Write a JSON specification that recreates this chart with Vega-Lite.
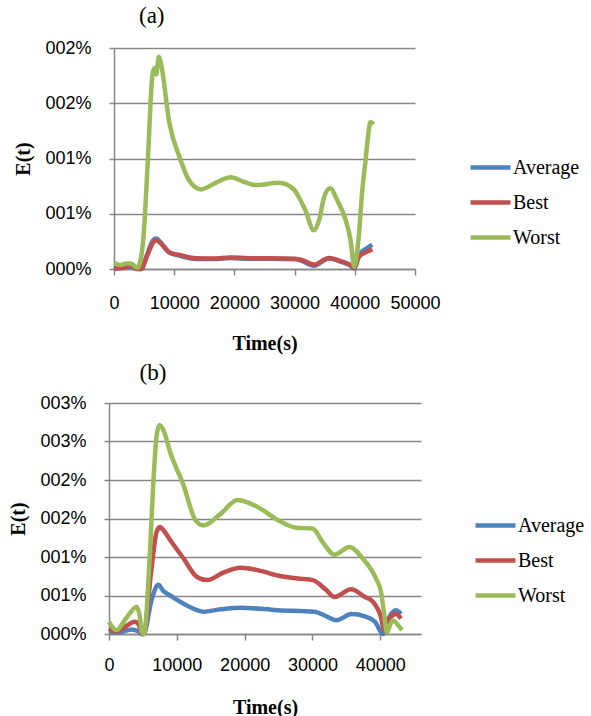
{
  "$schema": "https://vega.github.io/schema/vega-lite/v6.json",
  "padding": {"left": 8, "top": 5, "right": 0, "bottom": 0},
  "background": "white",
  "config": {
    "view": {"stroke": null},
    "axis": {
      "domainColor": "#868686", "tickColor": "#868686", "gridColor": "#868686",
      "domainWidth": 1.5, "tickWidth": 1.5, "gridWidth": 1.5,
      "labelFont": "Liberation Sans", "labelFontSize": 18, "labelColor": "#000",
      "titleFont": "Liberation Serif", "titleFontSize": 20, "titleFontWeight": "bold", "titleColor": "#000"
    },
    "legend": {
      "labelFont": "Liberation Serif", "labelFontSize": 20, "labelColor": "#000",
      "symbolType": "stroke", "symbolStrokeWidth": 4.5, "symbolSize": 1600, "labelOffset": 0, "rowPadding": 2
    },
    "title": {"font": "Liberation Serif", "fontSize": 23, "fontWeight": "normal", "color": "#000", "anchor": "start", "frame": "group", "baseline": "alphabetic"}
  },
  "datasets": {
    "a": [
      {"t": 0, "v": 0.0, "s": "Average"}, {"t": 2800, "v": 0.02, "s": "Average"}, {"t": 4000, "v": 0.0, "s": "Average"}, {"t": 4500, "v": 0.0, "s": "Average"},
      {"t": 5500, "v": 0.13, "s": "Average"}, {"t": 6500, "v": 0.26, "s": "Average"}, {"t": 7000, "v": 0.275, "s": "Average"}, {"t": 7600, "v": 0.25, "s": "Average"},
      {"t": 9200, "v": 0.15, "s": "Average"}, {"t": 10900, "v": 0.12, "s": "Average"}, {"t": 13600, "v": 0.09, "s": "Average"}, {"t": 16500, "v": 0.09, "s": "Average"},
      {"t": 19400, "v": 0.1, "s": "Average"}, {"t": 22500, "v": 0.092, "s": "Average"}, {"t": 25800, "v": 0.092, "s": "Average"}, {"t": 30100, "v": 0.088, "s": "Average"},
      {"t": 31300, "v": 0.072, "s": "Average"}, {"t": 33200, "v": 0.03, "s": "Average"}, {"t": 35700, "v": 0.095, "s": "Average"}, {"t": 37900, "v": 0.062, "s": "Average"},
      {"t": 39300, "v": 0.03, "s": "Average"}, {"t": 39900, "v": 0.005, "s": "Average"}, {"t": 40700, "v": 0.13, "s": "Average"}, {"t": 42070, "v": 0.19, "s": "Average"},
      {"t": 42900, "v": 0.22, "s": "Average"},
      {"t": 0, "v": 0.006, "s": "Best"}, {"t": 1500, "v": 0.01, "s": "Best"}, {"t": 2800, "v": 0.03, "s": "Best"}, {"t": 3800, "v": 0.0, "s": "Best"},
      {"t": 4500, "v": 0.0, "s": "Best"}, {"t": 5500, "v": 0.12, "s": "Best"}, {"t": 6500, "v": 0.24, "s": "Best"}, {"t": 7000, "v": 0.26, "s": "Best"},
      {"t": 7600, "v": 0.24, "s": "Best"}, {"t": 9200, "v": 0.15, "s": "Best"}, {"t": 10900, "v": 0.127, "s": "Best"}, {"t": 13600, "v": 0.097, "s": "Best"},
      {"t": 16500, "v": 0.095, "s": "Best"}, {"t": 19400, "v": 0.105, "s": "Best"}, {"t": 22500, "v": 0.097, "s": "Best"}, {"t": 25800, "v": 0.097, "s": "Best"},
      {"t": 30100, "v": 0.093, "s": "Best"}, {"t": 31300, "v": 0.08, "s": "Best"}, {"t": 33200, "v": 0.04, "s": "Best"}, {"t": 35700, "v": 0.1, "s": "Best"},
      {"t": 37900, "v": 0.066, "s": "Best"}, {"t": 39300, "v": 0.036, "s": "Best"}, {"t": 39900, "v": 0.01, "s": "Best"}, {"t": 40700, "v": 0.11, "s": "Best"},
      {"t": 42070, "v": 0.157, "s": "Best"}, {"t": 42900, "v": 0.18, "s": "Best"},
      {"t": 0, "v": 0.054, "s": "Worst"}, {"t": 1000, "v": 0.036, "s": "Worst"}, {"t": 2000, "v": 0.05, "s": "Worst"}, {"t": 2800, "v": 0.05, "s": "Worst"},
      {"t": 3900, "v": 0.01, "s": "Worst"}, {"t": 4800, "v": 0.23, "s": "Worst"}, {"t": 5600, "v": 0.96, "s": "Worst"}, {"t": 6350, "v": 1.74, "s": "Worst"},
      {"t": 6700, "v": 1.82, "s": "Worst"}, {"t": 7000, "v": 1.76, "s": "Worst"}, {"t": 7450, "v": 1.92, "s": "Worst"}, {"t": 7800, "v": 1.86, "s": "Worst"},
      {"t": 9200, "v": 1.32, "s": "Worst"}, {"t": 10900, "v": 1.01, "s": "Worst"}, {"t": 12500, "v": 0.8, "s": "Worst"}, {"t": 14450, "v": 0.72, "s": "Worst"},
      {"t": 16900, "v": 0.78, "s": "Worst"}, {"t": 19400, "v": 0.83, "s": "Worst"}, {"t": 21500, "v": 0.79, "s": "Worst"}, {"t": 23600, "v": 0.76, "s": "Worst"},
      {"t": 27400, "v": 0.78, "s": "Worst"}, {"t": 29900, "v": 0.72, "s": "Worst"}, {"t": 30800, "v": 0.64, "s": "Worst"}, {"t": 31800, "v": 0.53, "s": "Worst"},
      {"t": 33200, "v": 0.35, "s": "Worst"}, {"t": 34050, "v": 0.44, "s": "Worst"}, {"t": 34900, "v": 0.65, "s": "Worst"}, {"t": 35900, "v": 0.73, "s": "Worst"},
      {"t": 37100, "v": 0.62, "s": "Worst"}, {"t": 38500, "v": 0.44, "s": "Worst"}, {"t": 39300, "v": 0.26, "s": "Worst"}, {"t": 39900, "v": 0.02, "s": "Worst"},
      {"t": 40600, "v": 0.26, "s": "Worst"}, {"t": 41240, "v": 0.71, "s": "Worst"}, {"t": 41800, "v": 0.99, "s": "Worst"}, {"t": 42200, "v": 1.2, "s": "Worst"},
      {"t": 42600, "v": 1.33, "s": "Worst"}, {"t": 43150, "v": 1.31, "s": "Worst"}
    ],
    "b": [
      {"t": 0, "v": 0.03, "s": "Average"}, {"t": 1500, "v": 0.02, "s": "Average"}, {"t": 3300, "v": 0.06, "s": "Average"}, {"t": 4400, "v": 0.03, "s": "Average"},
      {"t": 4800, "v": 0.0, "s": "Average"}, {"t": 5100, "v": 0.0, "s": "Average"}, {"t": 6300, "v": 0.45, "s": "Average"}, {"t": 7280, "v": 0.64, "s": "Average"},
      {"t": 8000, "v": 0.56, "s": "Average"}, {"t": 9020, "v": 0.5, "s": "Average"}, {"t": 11490, "v": 0.37, "s": "Average"}, {"t": 13970, "v": 0.29, "s": "Average"},
      {"t": 16450, "v": 0.32, "s": "Average"}, {"t": 19400, "v": 0.34, "s": "Average"}, {"t": 24870, "v": 0.31, "s": "Average"}, {"t": 30300, "v": 0.29, "s": "Average"},
      {"t": 31800, "v": 0.24, "s": "Average"}, {"t": 33530, "v": 0.18, "s": "Average"}, {"t": 35760, "v": 0.26, "s": "Average"}, {"t": 37740, "v": 0.23, "s": "Average"},
      {"t": 39220, "v": 0.16, "s": "Average"}, {"t": 40400, "v": 0.0, "s": "Average"}, {"t": 41330, "v": 0.22, "s": "Average"}, {"t": 42310, "v": 0.31, "s": "Average"},
      {"t": 43050, "v": 0.26, "s": "Average"},
      {"t": 0, "v": 0.07, "s": "Best"}, {"t": 1080, "v": 0.03, "s": "Best"}, {"t": 2500, "v": 0.1, "s": "Best"}, {"t": 3800, "v": 0.16, "s": "Best"},
      {"t": 4400, "v": 0.12, "s": "Best"}, {"t": 4800, "v": 0.0, "s": "Best"}, {"t": 5100, "v": 0.0, "s": "Best"}, {"t": 6200, "v": 0.8, "s": "Best"},
      {"t": 7000, "v": 1.32, "s": "Best"}, {"t": 7520, "v": 1.39, "s": "Best"}, {"t": 8000, "v": 1.35, "s": "Best"}, {"t": 9020, "v": 1.22, "s": "Best"},
      {"t": 11000, "v": 0.98, "s": "Best"}, {"t": 12970, "v": 0.74, "s": "Best"}, {"t": 14460, "v": 0.7, "s": "Best"}, {"t": 16930, "v": 0.8, "s": "Best"},
      {"t": 19400, "v": 0.86, "s": "Best"}, {"t": 21900, "v": 0.83, "s": "Best"}, {"t": 24870, "v": 0.76, "s": "Best"}, {"t": 27840, "v": 0.72, "s": "Best"},
      {"t": 30040, "v": 0.7, "s": "Best"}, {"t": 32040, "v": 0.57, "s": "Best"}, {"t": 33240, "v": 0.48, "s": "Best"}, {"t": 35700, "v": 0.58, "s": "Best"},
      {"t": 37740, "v": 0.48, "s": "Best"}, {"t": 38880, "v": 0.42, "s": "Best"}, {"t": 40100, "v": 0.22, "s": "Best"}, {"t": 40600, "v": 0.04, "s": "Best"},
      {"t": 41330, "v": 0.2, "s": "Best"}, {"t": 42310, "v": 0.26, "s": "Best"}, {"t": 43050, "v": 0.2, "s": "Best"},
      {"t": 0, "v": 0.156, "s": "Worst"}, {"t": 1080, "v": 0.05, "s": "Worst"}, {"t": 2500, "v": 0.2, "s": "Worst"}, {"t": 4050, "v": 0.35, "s": "Worst"},
      {"t": 4500, "v": 0.25, "s": "Worst"}, {"t": 4800, "v": 0.03, "s": "Worst"}, {"t": 5150, "v": 0.0, "s": "Worst"}, {"t": 6000, "v": 1.0, "s": "Worst"},
      {"t": 6540, "v": 1.97, "s": "Worst"}, {"t": 7030, "v": 2.58, "s": "Worst"}, {"t": 7430, "v": 2.71, "s": "Worst"}, {"t": 8020, "v": 2.65, "s": "Worst"},
      {"t": 9020, "v": 2.36, "s": "Worst"}, {"t": 11000, "v": 1.93, "s": "Worst"}, {"t": 12740, "v": 1.48, "s": "Worst"}, {"t": 13970, "v": 1.41, "s": "Worst"},
      {"t": 16450, "v": 1.56, "s": "Worst"}, {"t": 18920, "v": 1.74, "s": "Worst"}, {"t": 21900, "v": 1.65, "s": "Worst"}, {"t": 24870, "v": 1.48, "s": "Worst"},
      {"t": 27590, "v": 1.38, "s": "Worst"}, {"t": 30040, "v": 1.37, "s": "Worst"}, {"t": 31520, "v": 1.19, "s": "Worst"}, {"t": 33240, "v": 1.03, "s": "Worst"},
      {"t": 35450, "v": 1.13, "s": "Worst"}, {"t": 37410, "v": 0.98, "s": "Worst"}, {"t": 39370, "v": 0.72, "s": "Worst"}, {"t": 40100, "v": 0.55, "s": "Worst"},
      {"t": 40600, "v": 0.24, "s": "Worst"}, {"t": 40940, "v": 0.02, "s": "Worst"}, {"t": 41830, "v": 0.18, "s": "Worst"}, {"t": 42560, "v": 0.12, "s": "Worst"},
      {"t": 43200, "v": 0.05, "s": "Worst"}
    ]
  },
  "center": true,
  "spacing": 9,
  "resolve": {"legend": {"color": "independent"}, "scale": {"x": "independent", "y": "independent"}},
  "vconcat": [
    {
      "width": 301, "height": 221,
      "title": {"text": "(a)", "dx": 25, "offset": 11},
      "data": {"name": "a"},
      "mark": {"type": "line", "interpolate": "monotone", "strokeWidth": 4.5},
      "encoding": {
        "x": {"field": "t", "type": "quantitative", "scale": {"domain": [0, 50000], "nice": false},
              "axis": {"values": [0, 10000, 20000, 30000, 40000, 50000], "grid": false, "tickSize": 6, "labelPadding": 19, "format": "d",
                       "labelOverlap": false, "labelFlush": false,
                       "title": "Time(s)", "titleY": 74, "titleBaseline": "middle"}},
        "y": {"field": "v", "type": "quantitative", "scale": {"domain": [0, 2], "nice": false},
              "axis": {"values": [0, 0.5, 1, 1.5, 2], "tickSize": 5, "labelPadding": 18, "labelExpr": "'00' + ceil(datum.value) + '%'",
                       "labelOverlap": false,
                       "title": "E(t)", "titleX": -91, "titleY": 110.5, "titleBaseline": "middle"}},
        "color": {"field": "s", "type": "nominal",
                  "scale": {"domain": ["Average", "Best", "Worst"], "range": ["#4F81BD", "#C0504D", "#9BBB59"]},
                  "legend": {"title": null, "orient": "none", "legendX": 354, "legendY": 97}}
      }
    },
    {
      "width": 312, "height": 231,
      "title": {"text": "(b)", "dx": 30.5, "offset": 9},
      "data": {"name": "b"},
      "mark": {"type": "line", "interpolate": "monotone", "strokeWidth": 4.5},
      "encoding": {
        "x": {"field": "t", "type": "quantitative", "scale": {"domain": [0, 46000], "nice": false},
              "axis": {"values": [0, 10000, 20000, 30000, 40000], "grid": false, "tickSize": 6, "labelPadding": 16, "format": "d",
                       "labelOverlap": false, "labelFlush": false,
                       "title": "Time(s)", "titleY": 73, "titleBaseline": "middle"}},
        "y": {"field": "v", "type": "quantitative", "scale": {"domain": [0, 3], "nice": false},
              "axis": {"values": [0, 0.5, 1, 1.5, 2, 2.5, 3], "tickSize": 5, "labelPadding": 18, "labelExpr": "'00' + ceil(datum.value) + '%'",
                       "labelOverlap": false,
                       "title": "E(t)", "titleX": -91, "titleY": 115.5, "titleBaseline": "middle"}},
        "color": {"field": "s", "type": "nominal",
                  "scale": {"domain": ["Average", "Best", "Worst"], "range": ["#4F81BD", "#C0504D", "#9BBB59"]},
                  "legend": {"title": null, "orient": "none", "legendX": 364, "legendY": 100}}
      }
    }
  ]
}
